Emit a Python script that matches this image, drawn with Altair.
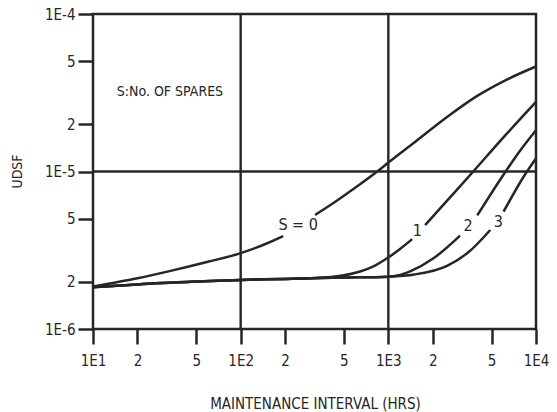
import altair as alt
import pandas as pd

# Unit downtime (UDSF) versus maintenance interval, one curve per number of spares.
# Each curve is split in two segments around its in-line label.
s0_x = [10, 20, 33, 60, 100, 150, 194,
        319, 450, 596, 853, 1000, 1500, 2500, 4000, 6300, 10000]
s0_y = [1.86e-6, 2.1e-6, 2.33e-6, 2.67e-6, 3.03e-6, 3.49e-6, 3.89e-6,
        5.3e-6, 6.55e-6, 7.88e-6, 1.01e-5, 1.14e-5, 1.53e-5, 2.22e-5, 3.02e-5, 3.82e-5, 4.64e-5]
s0_seg = [0, 0, 0, 0, 0, 0, 0,
          1, 1, 1, 1, 1, 1, 1, 1, 1, 1]

s1_x = [10, 20, 50, 100, 200, 300, 450, 644, 800, 975, 1200, 1450,
        1775, 2500, 3760, 5710, 10000]
s1_y = [1.84e-6, 1.92e-6, 2.0e-6, 2.05e-6, 2.08e-6, 2.1e-6, 2.16e-6, 2.32e-6, 2.51e-6, 2.8e-6, 3.22e-6, 3.72e-6,
        4.57e-6, 6.53e-6, 1.0e-5, 1.56e-5, 2.77e-5]
s1_seg = [0] * 12 + [1] * 5

s2_x = [10, 20, 50, 100, 200, 300, 500, 1000, 1200, 1405, 2010, 3060,
        4000, 6180, 8000, 10000]
s2_y = [1.84e-6, 1.92e-6, 2.0e-6, 2.05e-6, 2.08e-6, 2.1e-6, 2.12e-6, 2.15e-6, 2.2e-6, 2.32e-6, 2.8e-6, 3.92e-6,
        5.26e-6, 9.9e-6, 1.4e-5, 1.83e-5]
s2_seg = [0] * 12 + [1] * 4

s3_x = [10, 20, 50, 100, 200, 300, 500, 1000, 1500, 2500, 3500, 4900,
        6030, 8450, 10000]
s3_y = [1.84e-6, 1.92e-6, 2.0e-6, 2.05e-6, 2.08e-6, 2.1e-6, 2.12e-6, 2.15e-6, 2.22e-6, 2.52e-6, 3.08e-6, 4.25e-6,
        5.56e-6, 9.6e-6, 1.21e-5]
s3_seg = [0] * 12 + [1] * 3

# In-line curve labels
label_text = ["S = 0", "1", "2", "3"]
label_x = [245, 1570, 3470, 5550]
label_y = [4.57e-6, 4.19e-6, 4.51e-6, 4.78e-6]

# Axis ticks and their labels
x_ticks = [10, 20, 50, 100, 200, 500, 1000, 2000, 5000, 10000]
x_tick_labels = ["1E1", "2", "5", "1E2", "2", "5", "1E3", "2", "5", "1E4"]
y_ticks = [1e-6, 2e-6, 5e-6, 1e-5, 2e-5, 5e-5, 1e-4]
y_tick_labels = ["1E-6", "2", "5", "1E-5", "2", "5", "1E-4"]

# Decade grid lines inside the frame
x_grid = [100, 1000]
y_grid = [1e-5]

FONT = "Liberation Sans Narrow, DejaVu Sans Condensed, sans-serif"
INK = "#262626"


def label_expr(values, labels):
    expr = "''"
    for v, lab in reversed(list(zip(values, labels))):
        expr = f"datum.value == {v!r} ? '{lab}' : ({expr})"
    return expr


rows = []
for name, xs, ys, segs in [("0", s0_x, s0_y, s0_seg), ("1", s1_x, s1_y, s1_seg),
                           ("2", s2_x, s2_y, s2_seg), ("3", s3_x, s3_y, s3_seg)]:
    for xv, yv, sg in zip(xs, ys, segs):
        rows.append({"S": name, "part": f"{name}-{sg}", "hrs": xv, "udsf": yv})
curves = pd.DataFrame(rows)

xscale = alt.Scale(type="log", domain=[10, 10000], nice=False)
yscale = alt.Scale(type="log", domain=[1e-6, 1e-4], nice=False)

xaxis = alt.Axis(
    values=x_ticks, labelExpr=label_expr(x_ticks, x_tick_labels),
    grid=False, domain=False, ticks=True, tickSize=15, tickWidth=2.5, tickColor=INK,
    labelFont=FONT, labelFontSize=15, labelColor=INK, labelPadding=9, labelFlush=False,
    labelOverlap=False,
    title="MAINTENANCE INTERVAL (HRS)", titleFont=FONT, titleFontSize=15,
    titleFontWeight="normal", titleColor=INK, titleX=222, titleY=74, titleBaseline="middle",
)
yaxis = alt.Axis(
    values=y_ticks, labelExpr=label_expr(y_ticks, y_tick_labels),
    grid=False, domain=False, ticks=True, tickSize=15, tickWidth=2.5, tickColor=INK,
    labelFont=FONT, labelFontSize=15, labelColor=INK, labelPadding=3, labelFlush=False,
    labelOverlap=False,
    title="UDSF", titleFont=FONT, titleFontSize=14, titleFontWeight="normal",
    titleColor=INK, titleX=-76, titleY=157, titleBaseline="middle", titleAngle=-90,
)

lines = alt.Chart(curves).mark_line(color=INK, strokeWidth=2.5, interpolate="monotone").encode(
    x=alt.X("hrs:Q", scale=xscale, axis=xaxis),
    y=alt.Y("udsf:Q", scale=yscale, axis=yaxis),
    detail="part:N",
    order="hrs:Q",
)

vgrid = alt.Chart(pd.DataFrame({"hrs": x_grid})).mark_rule(color=INK, strokeWidth=2.4).encode(
    x=alt.X("hrs:Q", scale=xscale)
)
hgrid = alt.Chart(pd.DataFrame({"udsf": y_grid})).mark_rule(color=INK, strokeWidth=2.4).encode(
    y=alt.Y("udsf:Q", scale=yscale)
)

labels = alt.Chart(pd.DataFrame({"t": label_text, "hrs": label_x, "udsf": label_y})).mark_text(
    font=FONT, fontSize=16, color=INK, align="center", baseline="middle"
).encode(
    x=alt.X("hrs:Q", scale=xscale),
    y=alt.Y("udsf:Q", scale=yscale),
    text="t:N",
)

legend_note = alt.Chart(pd.DataFrame({"t": ["S:No. OF SPARES"], "hrs": [14.5], "udsf": [3.18e-5]})).mark_text(
    font=FONT, fontSize=14, color=INK, align="left", baseline="middle"
).encode(
    x=alt.X("hrs:Q", scale=xscale),
    y=alt.Y("udsf:Q", scale=yscale),
    text="t:N",
)

chart = alt.layer(vgrid, hgrid, lines, labels, legend_note).properties(
    width=443, height=315,
    autosize=alt.AutoSizeParams(type="none"),
    padding={"left": 93, "top": 14, "right": 21, "bottom": 83},
    background="white",
).configure_view(stroke=INK, strokeWidth=2.5)

chart.save("out.html", embed_options={"renderer": "svg", "actions": False})
